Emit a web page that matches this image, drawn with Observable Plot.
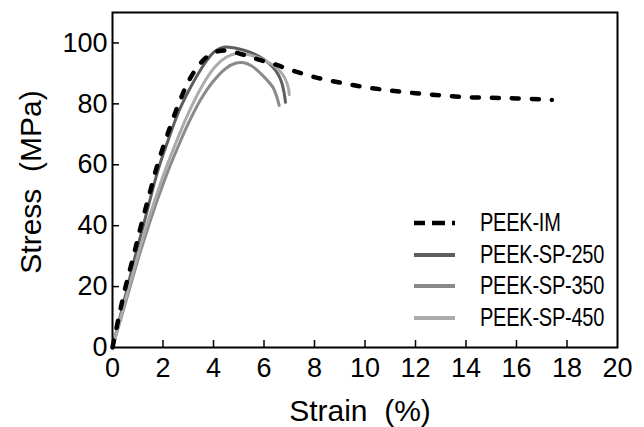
<!DOCTYPE html>
<html>
<head>
<meta charset="utf-8">
<script src="https://cdn.jsdelivr.net/npm/d3@7"></script>
<script src="https://cdn.jsdelivr.net/npm/@observablehq/plot@0.6"></script>
<style>
  html, body { margin: 0; padding: 0; background: #fff; }
  #wrap { position: relative; width: 644px; height: 427px; font-family: "Liberation Sans", Arial, sans-serif; }
  #legend { position: absolute; left: 414px; top: 207px; }
  .row { position: relative; height: 31.5px; }
  .row svg { position: absolute; left: 0; top: 0; }
  .row span { position: absolute; left: 66px; top: 0px; font-size: 25px; line-height: 31px; color: #000;
              transform: scaleX(0.8); transform-origin: 0 50%; white-space: nowrap; letter-spacing: -0.3px; }
</style>
</head>
<body>
<div id="wrap"></div>
<script>
// Series names and styles
const seriesNames = ["PEEK-IM", "PEEK-SP-250", "PEEK-SP-350", "PEEK-SP-450"];
const seriesColors = ["#000000", "#5e5e5e", "#8a8a8a", "#ababab"];

// PEEK-IM (dashed)
const strainIM = [0, 0.25, 0.52, 0.83, 1.13, 1.45, 1.78, 2.18, 2.62, 3.05, 3.45, 3.8, 4.15, 4.5, 5.0, 5.5, 6.0, 6.5, 7.0, 8.0, 9.0, 10.0, 11.0, 12.0, 13.0, 14.0, 15.0, 16.0, 17.4];
const stressIM = [0, 10, 20, 30, 40, 50, 60, 70, 80, 88, 93, 95.8, 97.2, 97.5, 96.6, 95.3, 94, 92.8, 91.3, 88.8, 87, 85.5, 84.4, 83.5, 82.8, 82.2, 82, 81.8, 81.3];

// PEEK-SP-250
const strain250 = [0, 0.3, 0.6, 0.9, 1.22, 1.5, 1.83, 2.2, 2.6, 3.0, 3.4, 3.8, 4.1, 4.4, 4.8, 5.2, 5.6, 6.0, 6.3, 6.55, 6.7, 6.8, 6.85];
const stress250 = [0, 10, 20, 30, 40, 49, 59, 68, 77, 84, 90, 95, 97.5, 98.6, 98.4, 97.6, 96.4, 94.6, 92.5, 89.8, 87, 83.5, 80.5];

// PEEK-SP-350
const strain350 = [0, 0.35, 0.7, 1.05, 1.43, 1.8, 2.2, 2.6, 3.0, 3.5, 4.0, 4.5, 4.9, 5.2, 5.5, 5.8, 6.1, 6.35, 6.5, 6.6];
const stress350 = [0, 10, 20, 30, 40, 49, 58, 66, 73.5, 81.5, 87.5, 91.7, 93.4, 93.5, 92.5, 90.5, 88, 85.5, 82.5, 79.5];

// PEEK-SP-450
const strain450 = [0, 0.33, 0.66, 1.0, 1.35, 1.7, 2.1, 2.5, 2.9, 3.3, 3.7, 4.1, 4.5, 4.9, 5.3, 5.7, 6.1, 6.5, 6.75, 6.9, 6.97, 7.0];
const stress450 = [0, 10, 20, 30, 40, 49, 58.5, 67, 75, 82, 88, 92.5, 95.3, 96.5, 96.3, 95.4, 94, 91.8, 89.5, 87, 85, 83];

const xTicks = [0, 2, 4, 6, 8, 10, 12, 14, 16, 18, 20];
const yTicks = [0, 20, 40, 60, 80, 100];

const strains = [strainIM, strain250, strain350, strain450];
const stresses = [stressIM, stress250, stress350, stress450];
const rows = seriesNames.map((name, k) => strains[k].map((s, i) => ({series: name, strain: s, stress: stresses[k][i]})));

const font = '"Liberation Sans", Arial, sans-serif';

const chart = Plot.plot({
  width: 644,
  height: 427,
  marginLeft: 112,
  marginRight: 27,
  marginTop: 12,
  marginBottom: 80,
  style: {fontFamily: font, background: "#fff", color: "#000", overflow: "visible"},
  x: {domain: [0, 20]},
  y: {domain: [0, 110]},
  marks: [
    // solid SP curves
    ...rows.slice(1).map((r, k) => Plot.line(r, {x: "strain", y: "stress", stroke: seriesColors[k + 1], strokeWidth: 3, curve: "catmull-rom"})),
    // dashed IM curve
    Plot.line(rows[0], {x: "strain", y: "stress", stroke: seriesColors[0], strokeWidth: 4.5, strokeDasharray: "7,13", strokeLinecap: "round", curve: "catmull-rom"}),
    Plot.frame({stroke: "#000", strokeWidth: 2}),
    // inward ticks
    Plot.axisX({ticks: xTicks.filter(t => t > 0 && t < 20), tickSize: -7, text: null, label: null, strokeWidth: 1.5}),
    Plot.axisY({ticks: yTicks.filter(t => t > 0), tickSize: -7, text: null, label: null, strokeWidth: 1.5}),
    // tick labels
    Plot.axisX({ticks: xTicks, tickSize: 0, tickPadding: 10, tickFormat: d => String(d), label: null, fontSize: 27}),
    Plot.axisY({ticks: yTicks, tickSize: 0, tickPadding: 5, tickFormat: d => String(d), label: null, fontSize: 27}),
    // axis titles
    Plot.text(["Strain\u00a0 (%)"], {frameAnchor: "bottom", dx: -5, dy: 73, fontSize: 30, lineAnchor: "bottom"}),
    Plot.text(["Stress\u00a0 (MPa)"], {frameAnchor: "left", textAnchor: "middle", dx: -81, dy: 2, rotate: -90, fontSize: 30, lineAnchor: "middle"})
  ]
});

const wrap = document.getElementById("wrap");
wrap.appendChild(chart);

// Legend overlay inside the plot area
const legend = document.createElement("div");
legend.id = "legend";
seriesNames.forEach((name, k) => {
  const row = document.createElement("div");
  row.className = "row";
  const ns = "http://www.w3.org/2000/svg";
  const svg = document.createElementNS(ns, "svg");
  svg.setAttribute("width", 50);
  svg.setAttribute("height", 32);
  const line = document.createElementNS(ns, "line");
  line.setAttribute("y1", 16); line.setAttribute("y2", 16);
  line.setAttribute("stroke", seriesColors[k]);
  line.setAttribute("x1", 0); line.setAttribute("x2", 41);
  if (k === 0) {
    line.setAttribute("stroke-width", 4.5);
    line.setAttribute("stroke-dasharray", "11,7,13,7,3,50");
  } else {
    line.setAttribute("stroke-width", 4);
  }
  svg.appendChild(line);
  const span = document.createElement("span");
  span.textContent = name;
  row.appendChild(svg);
  row.appendChild(span);
  legend.appendChild(row);
});
wrap.appendChild(legend);
</script>
</body>
</html>
